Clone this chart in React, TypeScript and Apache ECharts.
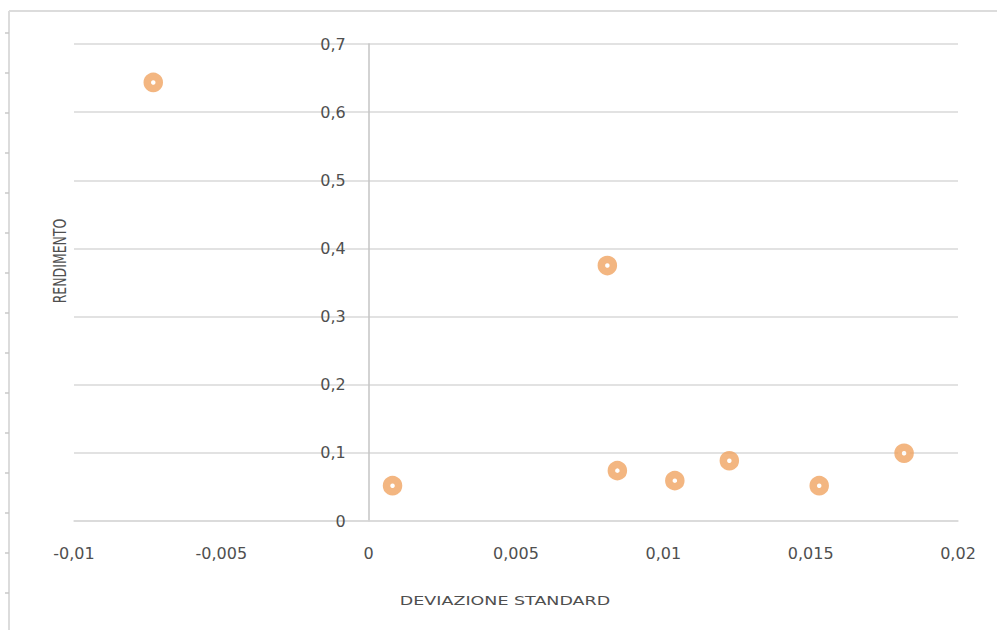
import React, { useEffect, useRef } from "react";
import * as echarts from "echarts";

// Deviazione standard (x) e rendimento (y) di ciascun titolo
const deviazione = [-0.00731, 0.0081, 0.00081, 0.00844, 0.01039, 0.01224, 0.01529, 0.01817];
const rendimento = [0.6436, 0.3749, 0.0518, 0.0739, 0.0592, 0.0884, 0.0518, 0.0994];

const xTitle = "DEVIAZIONE STANDARD";
const yTitle = "RENDIMENTO";

const X_MIN = -0.01;
const X_MAX = 0.02;

const ORANGE = "#F0A462";
const LABEL = "#4f4f4f";
const FONT = "'DejaVu Sans', 'Noto Sans', sans-serif";

const W = 997;
const H = 630;
const GRID = { left: 74, right: 39, top: 44, bottom: 109 };

const comma = (v: number, digits: number) =>
  String(Number(v.toFixed(digits))).replace(".", ",");

export default function App() {
  const ref = useRef<HTMLDivElement>(null);

  useEffect(() => {
    if (!ref.current) return;
    const chart = echarts.init(ref.current, null, { renderer: "svg" });

    // vertical axis sits at x = 0, labels included
    const plotWidth = W - GRID.left - GRID.right;
    const yAxisOffset = -plotWidth * (0 - X_MIN) / (X_MAX - X_MIN);

    // sheet frame: left/top border with small ruler ticks
    const frame: any[] = [
      { type: "line", shape: { x1: 9, y1: 11, x2: 9, y2: H }, style: { stroke: "#dcdcdc", lineWidth: 2 } },
      { type: "line", shape: { x1: 9, y1: 11, x2: W, y2: 11 }, style: { stroke: "#dcdcdc", lineWidth: 2 } },
    ];
    for (let y = 33; y < H; y += 40) {
      frame.push({ type: "line", shape: { x1: 5, y1: y, x2: 9, y2: y }, style: { stroke: "#c8c8c8", lineWidth: 1.5 } });
    }

    chart.setOption({
      animation: false,
      backgroundColor: "#ffffff",
      grid: { ...GRID, containLabel: false },
      xAxis: {
        type: "value",
        min: X_MIN,
        max: X_MAX,
        interval: 0.005,
        axisLine: { show: true, onZero: false, lineStyle: { color: "#d9d9d9", width: 1.5 } },
        axisTick: { show: false },
        splitLine: { show: false },
        axisLabel: {
          color: LABEL,
          fontFamily: FONT,
          fontSize: 16,
          margin: 24,
          formatter: (v: number) => comma(v, 4),
        },
      },
      yAxis: {
        type: "value",
        min: 0,
        max: 0.7,
        interval: 0.1,
        offset: yAxisOffset,
        axisLine: { show: true, onZero: false, lineStyle: { color: "#c4c4c4", width: 1.5 } },
        axisTick: { show: false },
        splitLine: { show: true, lineStyle: { color: "#d9d9d9", width: 1.5 } },
        axisLabel: {
          color: LABEL,
          fontFamily: FONT,
          fontSize: 16,
          margin: 23,
          formatter: (v: number) => comma(v, 2),
        },
      },
      series: [
        {
          type: "scatter",
          data: deviazione.map((x, i) => [x, rendimento[i]]),
          symbol: "circle",
          symbolSize: 12,
          itemStyle: { color: "#ffffff", borderColor: ORANGE, borderWidth: 7.5 },
        },
      ],
      graphic: [
        ...frame,
        {
          type: "text",
          x: 505,
          y: 601,
          scaleX: 1.4,
          style: {
            text: xTitle,
            fill: LABEL,
            font: `12.5px ${FONT}`,
            textAlign: "center",
            textVerticalAlign: "middle",
          },
        },
        {
          type: "text",
          x: 60,
          y: 261,
          rotation: Math.PI / 2,
          scaleY: 1.4,
          style: {
            text: yTitle,
            fill: LABEL,
            font: `12.5px ${FONT}`,
            textAlign: "center",
            textVerticalAlign: "middle",
          },
        },
      ],
    });

    return () => chart.dispose();
  }, []);

  return (
    <div
      ref={ref}
      style={{ position: "fixed", left: 0, top: 0, width: W, height: H }}
    />
  );
}
